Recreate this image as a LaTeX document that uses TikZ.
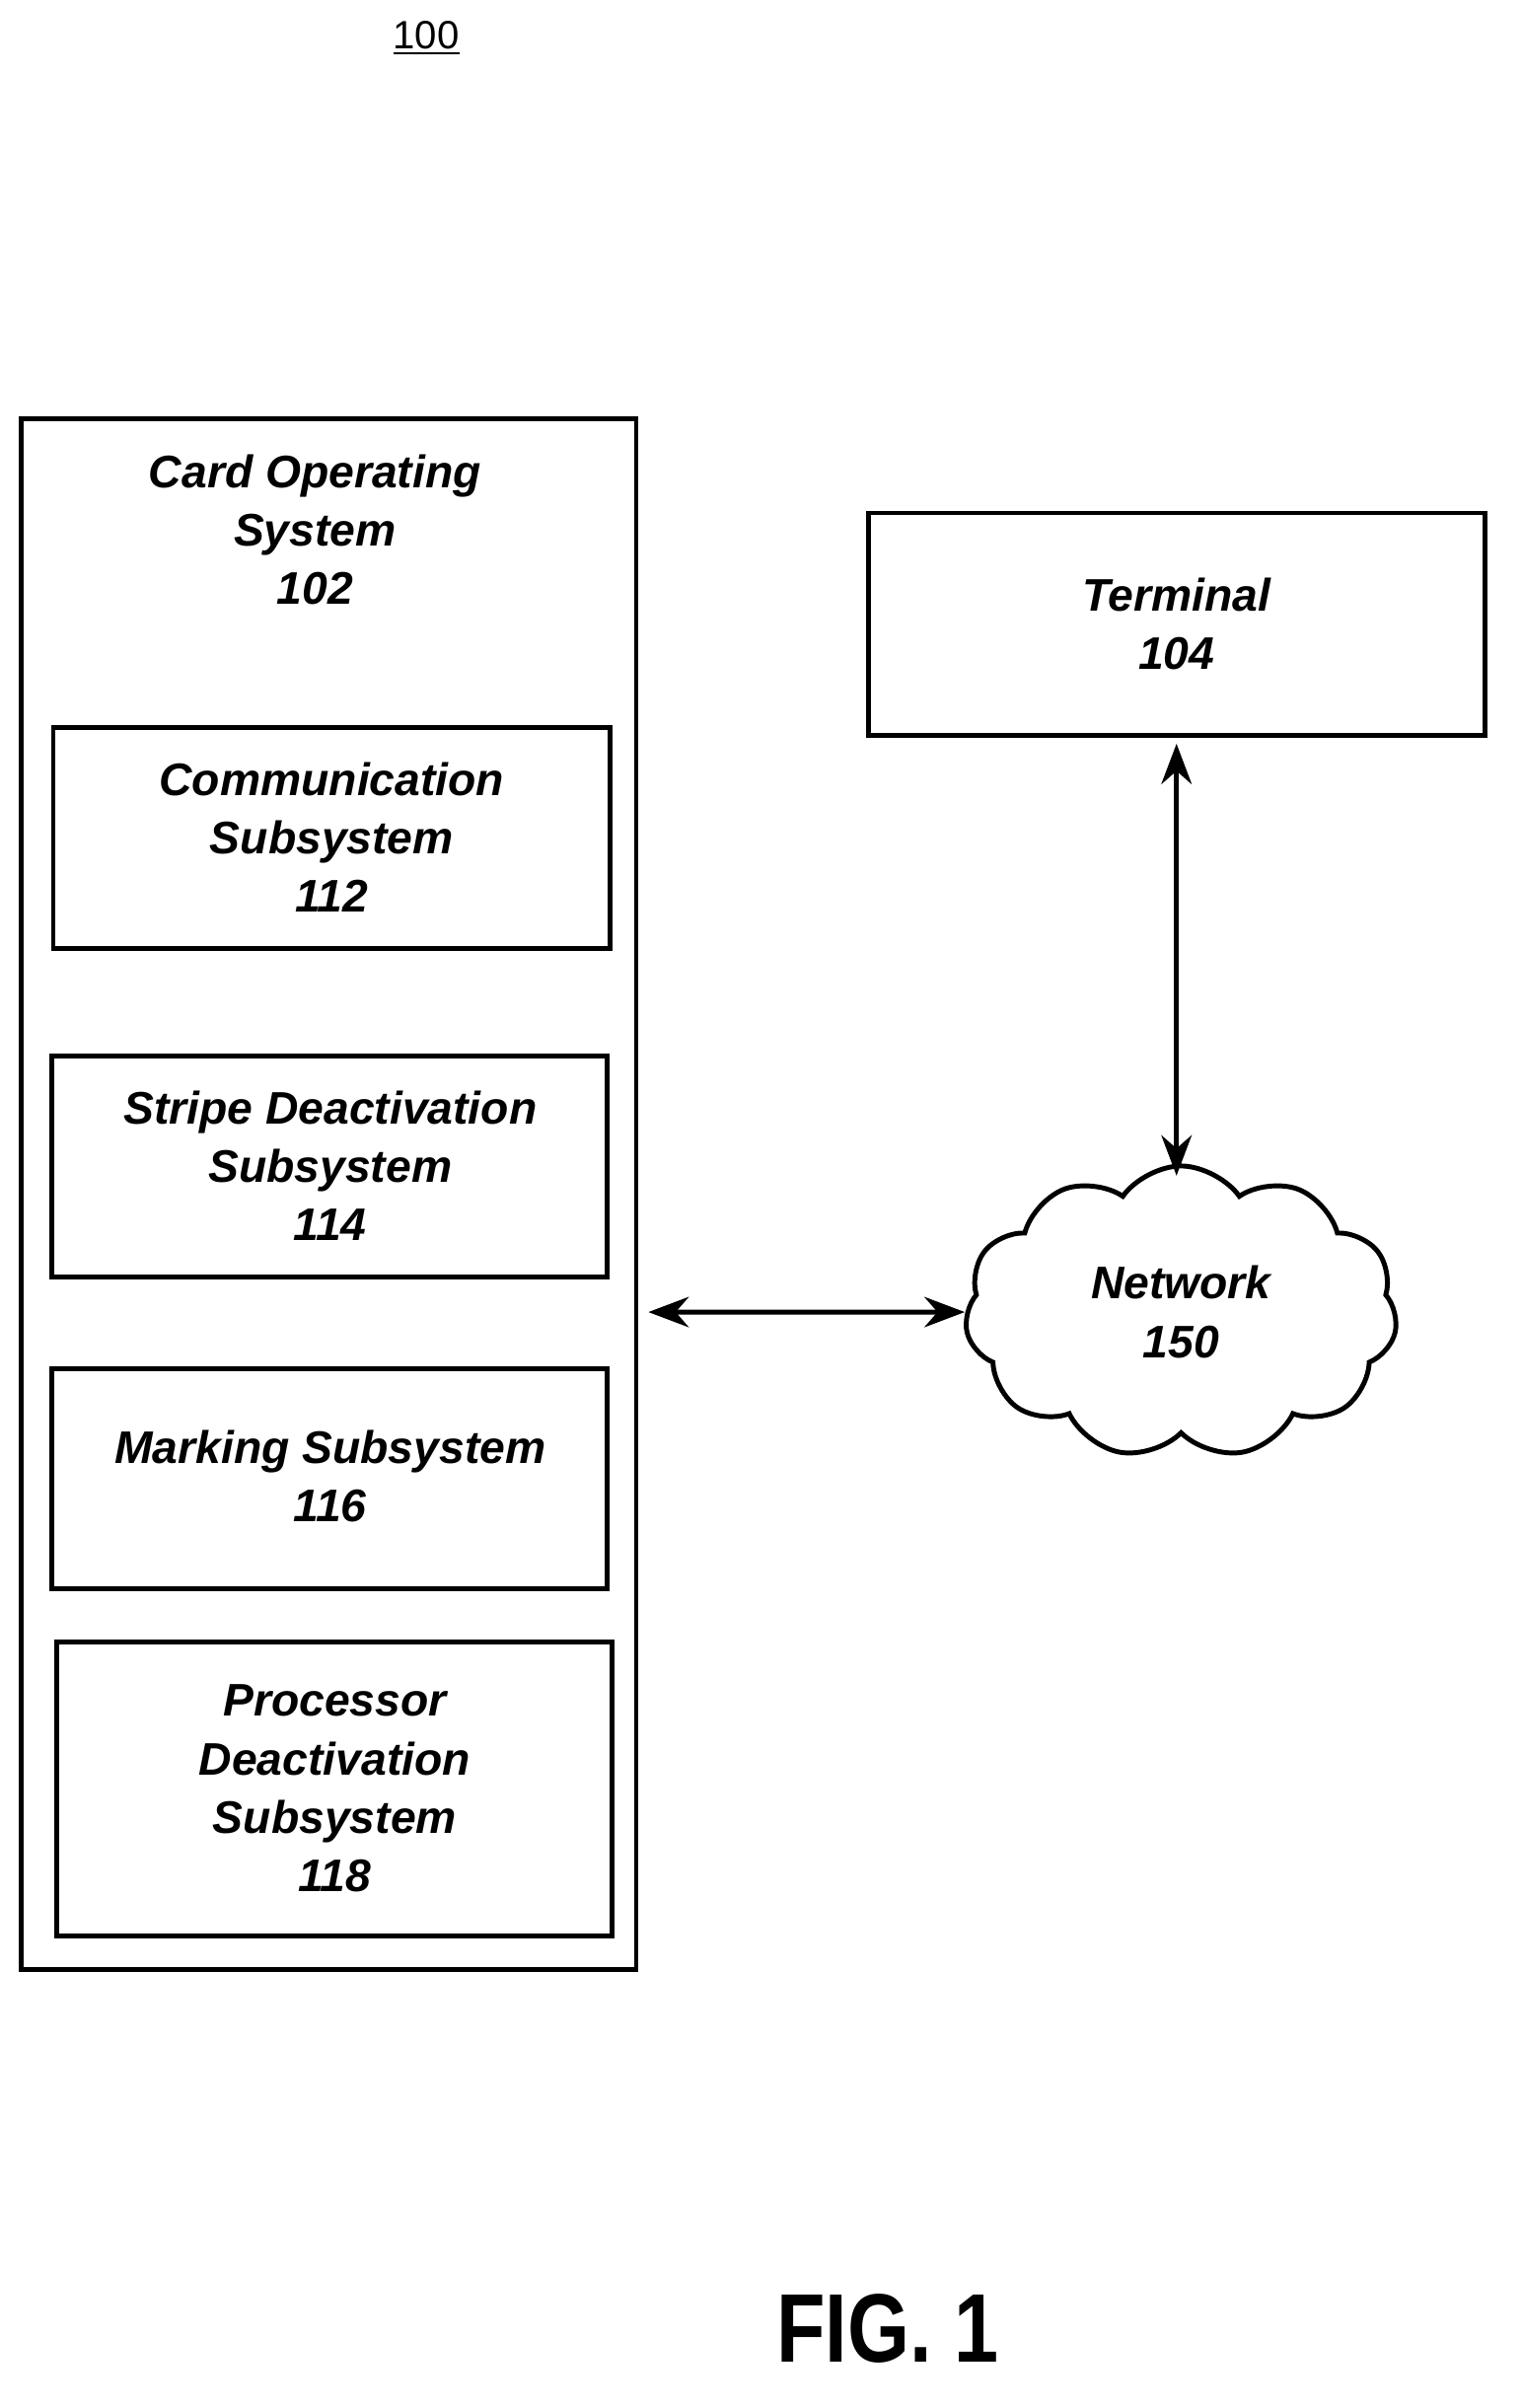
\documentclass[tikz,border=0pt]{standalone}
\usepackage{fontspec}
\setmainfont{Liberation Sans}
\usetikzlibrary{arrows.meta,shapes.symbols}

\begin{document}
\begin{tikzpicture}
[x={(0.5pt,0)},y={(0,-0.5pt)},
 bx/.style={draw=black,line width=1.6pt,inner sep=0pt},
 lbl/.style={font=\bfseries\itshape\fontsize{15}{19.2}\selectfont,align=center},
 be/.style={draw=black,line width=1.6pt,arrows={Stealth[scale=1.3]-Stealth[scale=1.3]}}]
\useasboundingbox (0,0) rectangle (1000,1582);

\node (fig) at (280,25) {\fontsize{13}{15}\selectfont\underline{100}};

% card operating system and subsystems
\draw[bx] (14,275) rectangle (418,1294);
\coordinate (cos) at (418,862);
\node[lbl] (cosl) at (207,348) {Card Operating\\System\\102};
\draw[bx] (35,478) rectangle (401,623);
\node[lbl] (comm) at (218,550) {Communication\\Subsystem\\112};
\draw[bx] (34,694) rectangle (399,839);
\node[lbl] (stripe) at (217,766) {Stripe Deactivation\\Subsystem\\114};
\draw[bx] (34,899) rectangle (399,1044);
\node[lbl] (mark) at (217,970) {Marking Subsystem\\116};
\draw[bx] (37,1079) rectangle (402,1272);
\node[lbl] (proc) at (220,1175) {Processor\\Deactivation\\Subsystem\\118};

% terminal and network
\node[bx,lbl,minimum width=202.5pt,minimum height=73pt] (term) at (773,410) {Terminal\\104};
\node[cloud,cloud puffs=11,cloud puff arc=110,aspect=1.45,draw=black,line width=1.6pt,
  minimum width=142pt,minimum height=96pt,lbl] (net) at (776,862) {Network\\150};

\draw[be] ([xshift=4pt]cos) -- (net.west);
\draw[be] ([yshift=-2pt]term.south) -- ([yshift=-4pt]term.south |- net.north);

\node[xscale=0.82] (figl) at (583,1530) {\bfseries\fontsize{32}{38}\selectfont FIG. 1};
\end{tikzpicture}
\end{document}
